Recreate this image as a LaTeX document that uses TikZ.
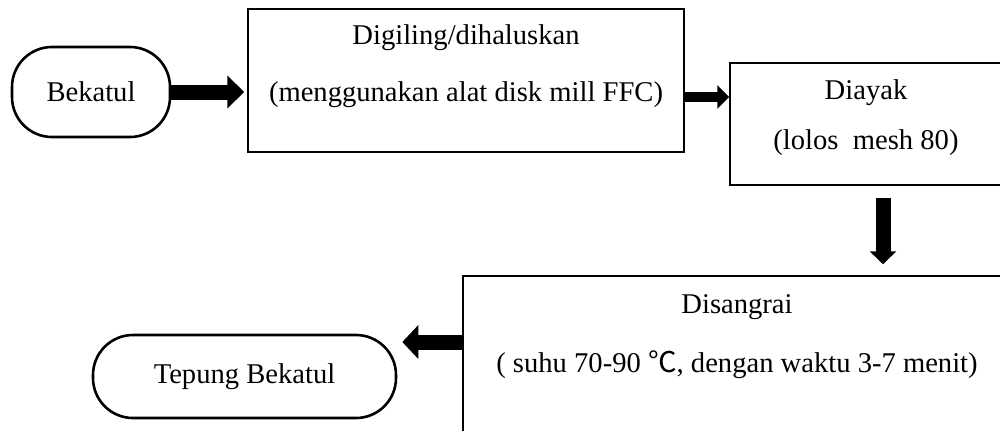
\documentclass[tikz,border=0pt]{standalone}
\usepackage{fontspec}
\setmainfont{Liberation Serif}
\newfontfamily\cjkfont{Noto Sans CJK SC}
\usetikzlibrary{arrows.meta}
\begin{document}
\begin{tikzpicture}[x=0.5pt,y=-0.5pt,
  box/.style={draw, line width=0.75pt, rectangle, inner sep=0pt},
  term/.style={draw, line width=1.3pt, rounded corners=20pt, inner sep=0pt,
    font=\fontsize{14.3}{17}\selectfont},
  txt/.style={font=\fontsize{14.3}{17}\selectfont, align=center, inner sep=0pt},
  bigarrow/.style={line width=7.5pt, -{Triangle[width=16pt,length=8.5pt]}},
]
\clip (0,0) rectangle (1000,430);
\fill[white] (0,0) rectangle (1000,430);

% terminals
\node[term, minimum width=79pt, minimum height=45pt] (bek) at (91,92) {Bekatul};
\node[term, minimum width=151.5pt, minimum height=41.5pt] (tep) at (244.5,376.5) {Tepung Bekatul};

% process boxes
\node[box, minimum width=218pt, minimum height=71.5pt] (b2) at (466,80.5) {};
\node[txt] (t2) at (466,66.5) {Digiling/dihaluskan\\[11.5pt](menggunakan alat disk mill FFC)};

\node[box, minimum width=136pt, minimum height=61pt] (b3) at (866,124) {};
\node[txt] (t3) at (866,118) {Diayak\\[8pt](lolos\ \ mesh 80)};

\node[box, minimum width=274pt, minimum height=92pt] (b4) at (737,368) {};
\node[txt] (t4) at (737,336.5) {Disangrai\\[12.5pt]( suhu 70-90 {\cjkfont ℃}, dengan waktu 3-7 menit)};

% helper coordinates
\coordinate (a2y) at (0,97);
\coordinate (a3x) at (883,0);
\coordinate (a4y) at (0,342);

% arrows
\draw[bigarrow, shorten >=1.5pt] (bek.east) -- (bek.east -| b2.west);
\draw[line width=5pt, -{Triangle[width=11.5pt,length=6pt]}] (b2.east |- a2y) -- (b3.west |- a2y);
\draw[line width=7.5pt, -{Triangle[width=13pt,length=6.5pt]}, shorten <=6pt, shorten >=5.5pt]
  (b3.south -| a3x) -- (b4.north -| a3x);
\draw[line width=7.5pt, -{Triangle[width=16.5pt,length=8pt]}, shorten >=2.5pt]
  (b4.west |- a4y) -- (tep.east |- a4y);
\end{tikzpicture}
\end{document}
